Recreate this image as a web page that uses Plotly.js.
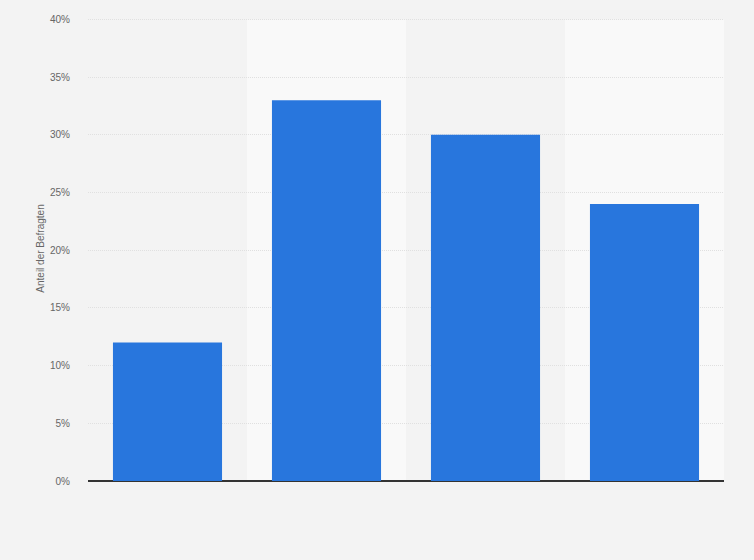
<!DOCTYPE html>
<html>
<head>
<meta charset="utf-8">
<script src="https://cdn.plot.ly/plotly-3.0.1.min.js"></script>
<style>
  html, body { margin: 0; padding: 0; background: #f3f3f3; }
  #myDiv { width: 754px; height: 560px; }
</style>
</head>
<body>
<div id="myDiv"></div>
<script>
// category labels are not shown in the picture, so these are just placeholders
var categories = ['Gruppe 1', 'Gruppe 2', 'Gruppe 3', 'Gruppe 4'];
var shares = [12, 33, 30, 24];
var yTicks = [0, 5, 10, 15, 20, 25, 30, 35, 40];
var yTickLabels = ['0%', '5%', '10%', '15%', '20%', '25%', '30%', '35%', '40%'];

var trace = {
  x: categories,
  y: shares,
  type: 'bar',
  marker: { color: '#2876dd' },
  width: 0.686,
  hoverinfo: 'y'
};

// lighter background band behind every second category
var bands = [];
for (let i = 1; i < categories.length; i += 2) {
  bands.push({
    type: 'rect', xref: 'x', yref: 'y', layer: 'below',
    x0: i - 0.5, x1: i + 0.5, y0: 0, y1: 40,
    fillcolor: '#f9f9f9', line: { width: 0 }
  });
}

var layout = {
  width: 754,
  height: 560,
  paper_bgcolor: '#f3f3f3',
  plot_bgcolor: '#f3f3f3',
  // top margin and range a bit over 40 so the 40% grid line is still drawn
  margin: { l: 88, r: 30, t: 16, b: 79 },
  showlegend: false,
  font: { family: 'Liberation Sans, Arial, sans-serif', color: '#666' },
  shapes: bands,
  xaxis: {
    showticklabels: false,
    showgrid: false,
    zeroline: false,
    showline: false,
    ticks: '',
    range: [-0.5, categories.length - 0.5]
  },
  yaxis: {
    range: [0, 40.3],
    tickvals: yTicks,
    ticktext: yTickLabels,
    tickfont: { size: 10, color: '#666' },
    ticks: 'outside',
    ticklen: 15,
    tickcolor: 'rgba(0,0,0,0)',
    showgrid: true,
    gridcolor: '#e0e0e0',
    griddash: '1px,1px',
    gridwidth: 1,
    zeroline: true,
    zerolinecolor: '#333',
    zerolinewidth: 1.5,
    title: { text: 'Anteil der Befragten', font: { size: 10, color: '#666' }, standoff: 3 }
  }
};

Plotly.newPlot('myDiv', [trace], layout, { displayModeBar: false, staticPlot: true });
</script>
</body>
</html>
